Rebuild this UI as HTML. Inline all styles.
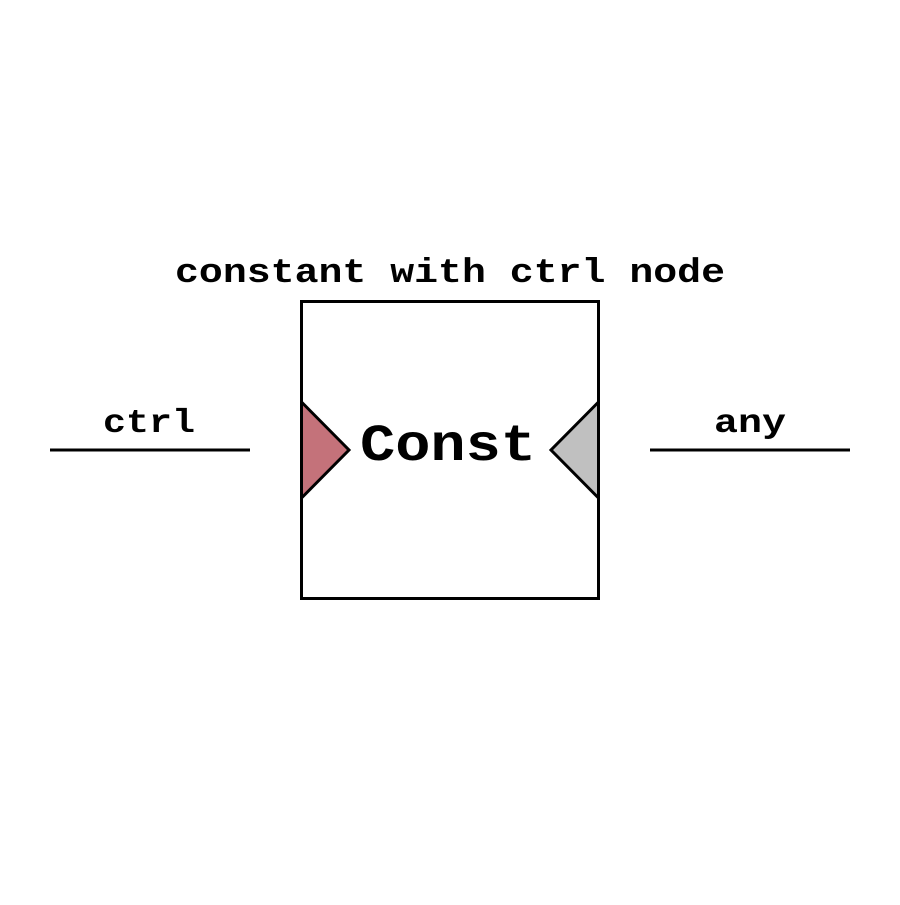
<!DOCTYPE html>
<html><head><meta charset="utf-8"><style>html,body{margin:0;padding:0;background:#fff}</style></head>
<body>
<svg width="900" height="900" viewBox="0 0 900 900" xmlns="http://www.w3.org/2000/svg">
<rect width="900" height="900" fill="#fff"/>
<text x="450" y="282" text-anchor="middle" font-family="Liberation Mono, monospace" font-weight="bold" font-size="34" textLength="550" lengthAdjust="spacingAndGlyphs">constant with ctrl node</text>
<rect x="301.5" y="301.5" width="297" height="297" fill="#fff" stroke="#000" stroke-width="3"/>
<polygon points="301.5,402 349,450 301.5,498" fill="#c4727a" stroke="#000" stroke-width="3" stroke-linejoin="miter"/>
<polygon points="598.5,402 551,450 598.5,498" fill="#c0c0c0" stroke="#000" stroke-width="3" stroke-linejoin="miter"/>
<text x="448" y="460" text-anchor="middle" font-family="Liberation Mono, monospace" font-weight="bold" font-size="52" textLength="176" lengthAdjust="spacingAndGlyphs">Const</text>
<line x1="50" y1="450" x2="250" y2="450" stroke="#000" stroke-width="3"/>
<line x1="650" y1="450" x2="850" y2="450" stroke="#000" stroke-width="3"/>
<text x="149" y="432" text-anchor="middle" font-family="Liberation Mono, monospace" font-weight="bold" font-size="33" textLength="92" lengthAdjust="spacingAndGlyphs">ctrl</text>
<text x="750" y="432" text-anchor="middle" font-family="Liberation Mono, monospace" font-weight="bold" font-size="33" textLength="72" lengthAdjust="spacingAndGlyphs">any</text>
</svg>
</body></html>
